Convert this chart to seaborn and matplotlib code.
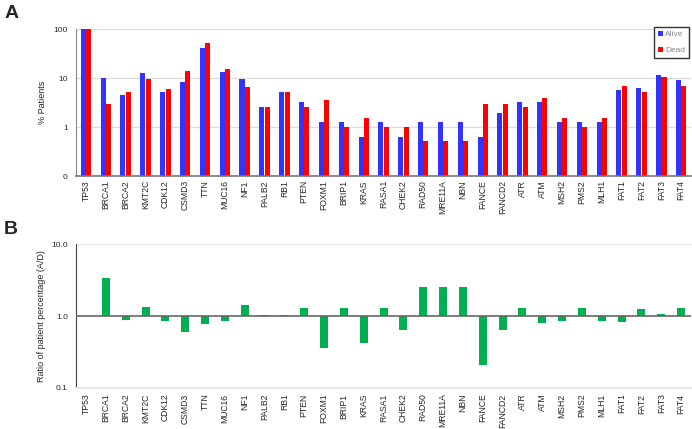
import numpy as np
import pandas as pd
import seaborn as sns
import matplotlib.pyplot as plt
from matplotlib.ticker import FixedLocator, FuncFormatter, NullFormatter

genes = ["TP53", "BRCA1", "BRCA2", "KMT2C", "CDK12", "CSMD3", "TTN", "MUC16", "NF1",
         "PALB2", "RB1", "PTEN", "FOXM1", "BRIP1", "KRAS", "RASA1", "CHEK2", "RAD50",
         "MRE11A", "NBN", "FANCE", "FANCD2", "ATR", "ATM", "MSH2", "PMS2", "MLH1",
         "FAT1", "FAT2", "FAT3", "FAT4"]

# % patients with mutation
alive = [100, 10.2, 4.5, 12.6, 5.1, 8.2, 40.3, 13.5, 9.5,
         2.56, 5.1, 3.2, 1.28, 1.28, 0.64, 1.28, 0.64, 1.28,
         1.28, 1.28, 0.64, 1.93, 3.2, 3.2, 1.28, 1.28, 1.28,
         5.8, 6.35, 11.5, 9.0]
dead = [100, 3.0, 5.1, 9.5, 6.0, 14.1, 51.8, 15.3, 6.5,
        2.56, 5.1, 2.56, 3.5, 1.0, 1.5, 1.0, 1.0, 0.52,
        0.52, 0.52, 3.0, 3.0, 2.56, 3.97, 1.5, 1.0, 1.5,
        7.0, 5.1, 10.5, 7.0]

# alive / dead ratio (panel B)
ratio = [1.0, 3.4, 0.89, 1.33, 0.85, 0.59, 0.78, 0.85, 1.44,
         1.02, 1.02, 1.28, 0.36, 1.28, 0.42, 1.28, 0.63, 2.53,
         2.53, 2.53, 0.21, 0.63, 1.28, 0.80, 0.86, 1.28, 0.86,
         0.82, 1.25, 1.07, 1.28]

sns.set_style("white")
plt.rcParams["font.family"] = ["Liberation Sans", "DejaVu Sans"]

df = pd.DataFrame({"gene": genes * 2,
                   "pct": alive + dead,
                   "status": ["Alive"] * len(genes) + ["Dead"] * len(genes)})
df_ratio = pd.DataFrame({"gene": genes, "logratio": np.log10(ratio)})

fig = plt.figure(figsize=(6.92, 4.29), dpi=100)
ax1 = fig.add_axes([0.110, 0.5897, 0.8886, 0.3427])
ax2 = fig.add_axes([0.110, 0.0956, 0.8886, 0.3356])

# ---- panel A
sns.barplot(data=df, x="gene", y="pct", hue="status", ax=ax1,
            palette={"Alive": "#3333ff", "Dead": "#ff0000"},
            width=0.55, gap=0.08, saturation=1, linewidth=0)
ax1.set_yscale("log")
ax1.set_ylim(0.1, 100)
ax1.set_xlim(-0.5, len(genes) - 0.5)
ax1.set_yticks([0.1, 1, 10, 100])
ax1.set_yticklabels(["0", "1", "10", "100"])
ax1.yaxis.set_minor_formatter(NullFormatter())
ax1.tick_params(axis="y", which="both", length=0, labelsize=6, pad=6)
ax1.tick_params(axis="x", length=0, labelsize=6.2, rotation=90, pad=3)
ax1.set_axisbelow(True)
ax1.yaxis.grid(True, which="major", color="#dddddd", linewidth=1)
for s in ["top", "right"]:
    ax1.spines[s].set_visible(False)
ax1.spines["left"].set_color("#888888")
ax1.spines["bottom"].set_color("#777777")
ax1.spines["bottom"].set_linewidth(1.2)
ax1.set_xlabel("")
ax1.set_ylabel("% Patients", fontsize=6.5, labelpad=5)
leg = ax1.legend(loc="upper right", bbox_to_anchor=(689 / 692, 1 - 27 / 429),
                 bbox_transform=fig.transFigure, fontsize=6, handlelength=0.6,
                 handleheight=0.6, handletextpad=0.3, borderpad=0.45,
                 labelspacing=1.0, fancybox=False, framealpha=1, borderaxespad=0)
leg.get_frame().set_edgecolor("#333333")
leg.get_frame().set_linewidth(1)
for t in leg.get_texts():
    t.set_color("#888888")

# ---- panel B
sns.barplot(data=df_ratio, x="gene", y="logratio", ax=ax2, color="#00b050",
            width=0.4, saturation=1, linewidth=0)
ax2.set_ylim(-1, 1)
ax2.set_xlim(-0.5, len(genes) - 0.5)
ax2.set_yticks([-1, 0, 1])
ax2.yaxis.set_major_formatter(FuncFormatter(lambda v, p: "%.1f" % (10.0 ** v)))
minors = [np.log10(m * d) for d in [0.1, 1] for m in range(2, 10)]
ax2.yaxis.set_minor_locator(FixedLocator(minors))
ax2.tick_params(axis="y", which="major", length=4, width=0.8, labelsize=6, pad=2, color="#444444")
ax2.tick_params(axis="y", which="minor", length=2, width=0.6, color="#444444")
ax2.tick_params(axis="x", length=0, labelsize=6.2, rotation=90, pad=4)
ax2.axhline(0, color="#666666", linewidth=1.2, zorder=3)
ax2.axhline(1, color="#e6e6e6", linewidth=1.5, zorder=0)
for s in ["top", "right"]:
    ax2.spines[s].set_visible(False)
ax2.spines["left"].set_color("#444444")
ax2.spines["bottom"].set_color("#e6e6e6")
ax2.spines["bottom"].set_linewidth(1.5)
ax2.set_xlabel("")
ax2.set_ylabel("Ratio of patient percentage (A/D)", fontsize=6.5, labelpad=4)

fig.text(0.006, 0.988, "A", fontsize=14, fontweight="bold", va="top", ha="left")
fig.text(0.006, 0.485, "B", fontsize=14, fontweight="bold", va="top", ha="left")

fig.savefig("out.png", dpi=100)
